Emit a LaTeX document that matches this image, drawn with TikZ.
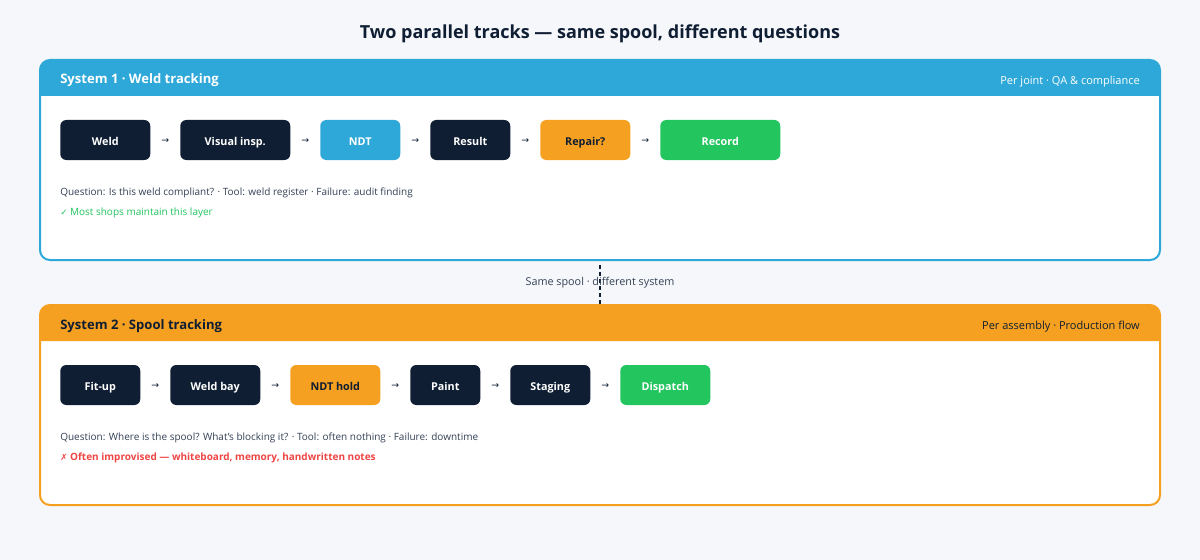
\documentclass[tikz,border=0pt]{standalone}
\usepackage{fontspec}
\setmainfont{Open Sans}
\newfontfamily\symfont{DejaVu Sans}
\usetikzlibrary{calc}
\definecolor{bg}{HTML}{F5F7FA}
\definecolor{navy}{HTML}{0F1E33}
\definecolor{sysblue}{HTML}{2EA8D8}
\definecolor{sysorange}{HTML}{F5A020}
\definecolor{okgreen}{HTML}{22C55E}
\definecolor{badred}{HTML}{EF4444}
\definecolor{bodytext}{HTML}{334155}
\tikzset{
  stage/.style={rounded corners=4.5pt, minimum height=30pt, inner sep=0pt, text height=8.4pt, text depth=0pt, font=\bfseries\fontsize{8.1}{10}\selectfont, anchor=west},
  darkstage/.style={stage, fill=navy, text=white},
  bluestage/.style={stage, fill=sysblue, text=white},
  orangestage/.style={stage, fill=sysorange, text=navy},
  greenstage/.style={stage, fill=okgreen, text=white},
  flowarrow/.style={font=\symfont\fontsize{7}{8}\selectfont, text=navy, inner sep=0pt},
  panelborder/.style={line width=1.5pt, rounded corners=7.5pt},
  headtitle/.style={anchor=base west, font=\bfseries\fontsize{9.8}{12}\selectfont, inner sep=0pt},
  headnote/.style={anchor=base east, font=\fontsize{8.25}{10}\selectfont, inner sep=0pt},
  bodyline/.style={anchor=base west, font=\fontsize{7.5}{9}\selectfont, text=bodytext, inner sep=0pt},
}
\begin{document}
\begin{tikzpicture}[x=0.75pt,y=-0.75pt]
\fill[bg] (0,0) rectangle (1200,560);
\useasboundingbox (0,0) rectangle (1200,560);

\node[anchor=base, font=\bfseries\fontsize{13.5}{16}\selectfont, text=navy, inner sep=0pt] (title) at (600,38.5) {Two parallel tracks — same spool, different questions};

% Panel 1
\fill[white, rounded corners=7.5pt] (40,60) rectangle (1160,260);
\fill[sysblue] (40,96) {[rounded corners=7.5pt] -- (40,60) -- (1160,60)} -- (1160,96) -- cycle;
\draw[sysblue, panelborder] (40,60) rectangle (1160,260);
\node[headtitle, text=white] (h1) at (60,84) {System 1 · Weld tracking};
\node[headnote, text=white] (n1) at (1140,84.5) {Per joint · QA \& compliance};

\node[darkstage, minimum width=67.5pt] (weld) at (60,140) {Weld};
\node[darkstage, minimum width=82.5pt] (vis) at (180,140) {Visual insp.};
\node[bluestage, minimum width=60pt] (ndt) at (320,140) {NDT};
\node[darkstage, minimum width=60pt] (res) at (430,140) {Result};
\node[orangestage, minimum width=67.5pt] (rep) at (540,140) {Repair?};
\node[greenstage, minimum width=90pt] (rec) at (660,140) {Record};
\foreach \a/\b/\n in {weld/vis/a1, vis/ndt/a2, ndt/res/a3, res/rep/a4, rep/rec/a5}
  \node[flowarrow] (\n) at ($(\a.east)!0.5!(\b.west)+(0,1.5)$) {→};

\node[bodyline] (q1) at (60,195.5) {Question: Is this weld compliant? · Tool: weld register · Failure: audit finding};
\node[bodyline, text=okgreen] (ok1) at (60,215.5) {{\symfont\fontsize{6.5}{8}\selectfont ✓} Most shops maintain this layer};

% Link
\coordinate (linktop) at (600,265);
\coordinate (linkbot) at (600,304);
\draw[navy, line width=1.5pt, dash pattern=on 3pt off 2.2pt] (linktop) -- (linkbot);
\node[anchor=base, font=\fontsize{8.1}{9}\selectfont, text=bodytext, inner sep=0pt] (link) at (600,285.5) {Same spool · different system};

% Panel 2
\fill[white, rounded corners=7.5pt] (40,305) rectangle (1160,505);
\fill[sysorange] (40,341) {[rounded corners=7.5pt] -- (40,305) -- (1160,305)} -- (1160,341) -- cycle;
\draw[sysorange, panelborder] (40,305) rectangle (1160,505);
\node[headtitle, text=navy] (h2) at (60,329) {System 2 · Spool tracking};
\node[headnote, text=navy] (n2) at (1140,329.5) {Per assembly · Production flow};

\node[darkstage, minimum width=60pt] (fit) at (60,385) {Fit-up};
\node[darkstage, minimum width=67.5pt] (bay) at (170,385) {Weld bay};
\node[orangestage, minimum width=67.5pt] (hold) at (290,385) {NDT hold};
\node[darkstage, minimum width=52.5pt] (paint) at (410,385) {Paint};
\node[darkstage, minimum width=60pt] (stag) at (510,385) {Staging};
\node[greenstage, minimum width=67.5pt] (disp) at (620,385) {Dispatch};
\foreach \a/\b/\n in {fit/bay/b1, bay/hold/b2, hold/paint/b3, paint/stag/b4, stag/disp/b5}
  \node[flowarrow] (\n) at ($(\a.east)!0.5!(\b.west)+(0,1.5)$) {→};

\node[bodyline] (q2) at (60,440.5) {Question: Where is the spool? What's blocking it? · Tool: often nothing · Failure: downtime};
\node[bodyline, text=badred, font=\bfseries\fontsize{7.5}{9}\selectfont] (bad2) at (60,460.5) {{\symfont\fontsize{6.5}{8}\selectfont ✗} Often improvised — whiteboard, memory, handwritten notes};
\end{tikzpicture}
\end{document}
